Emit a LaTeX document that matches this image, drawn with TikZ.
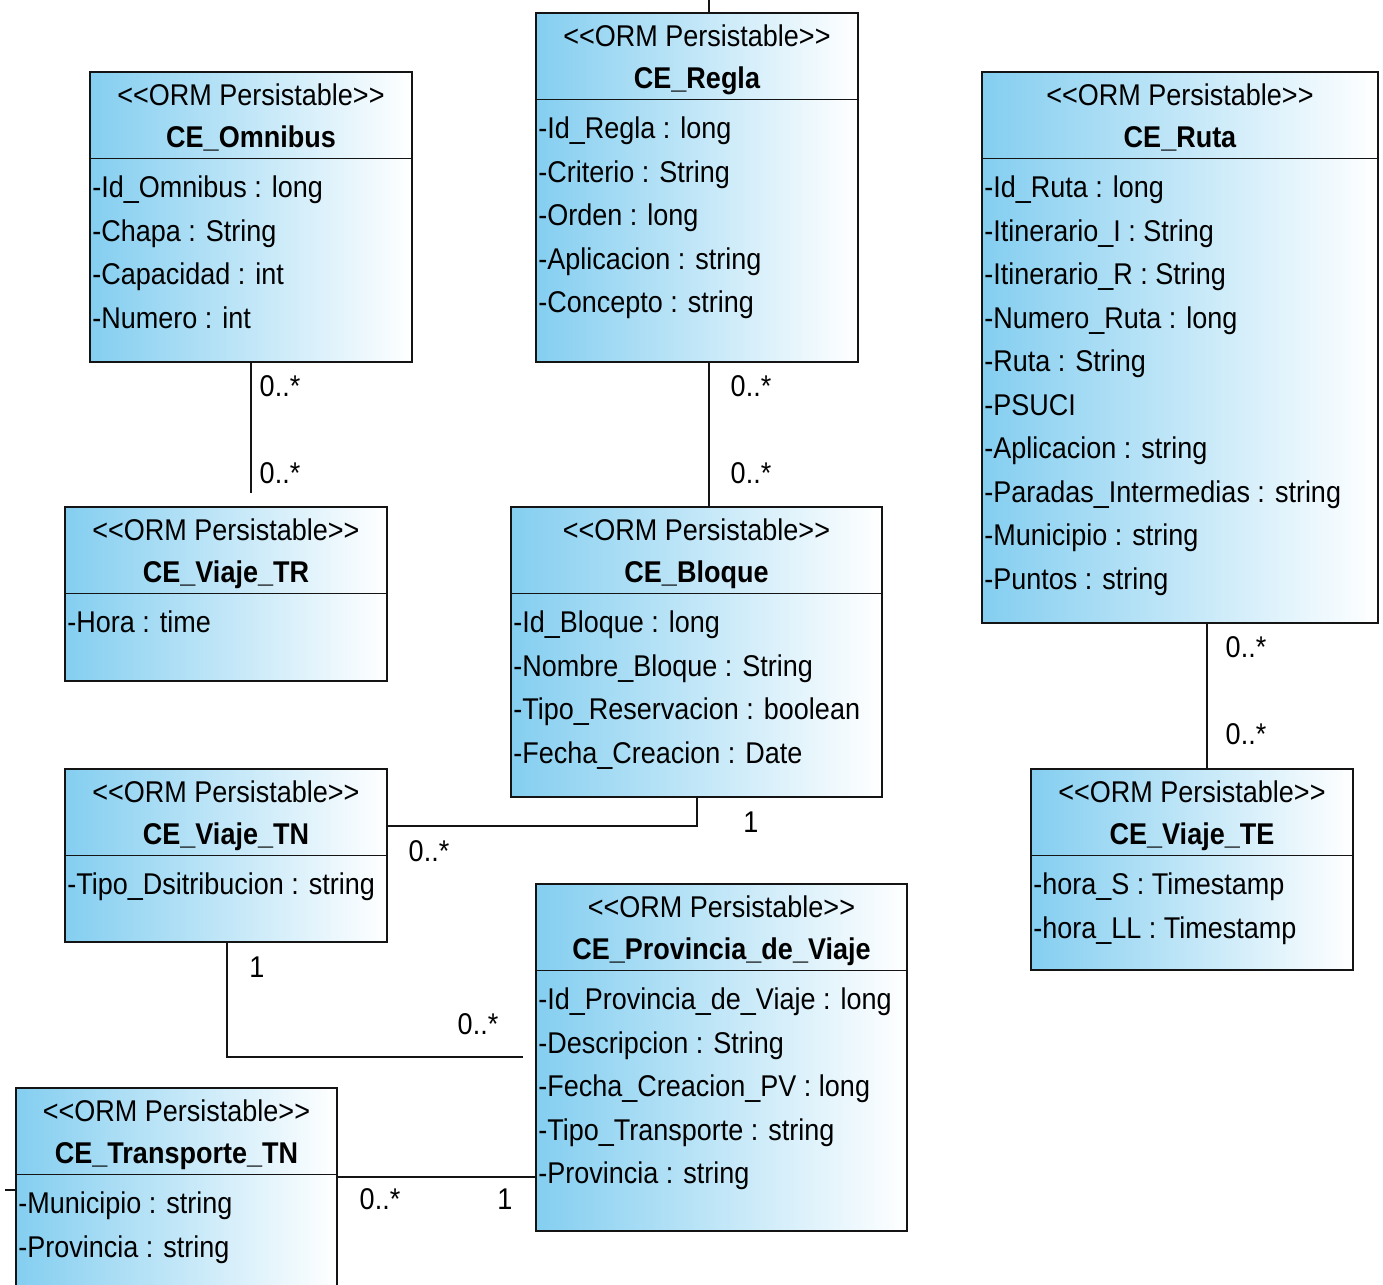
\documentclass[tikz,border=0pt]{standalone}
\usepackage{fontspec}
\newfontfamily\umlfont[FakeStretch=0.9]{Liberation Sans}
\definecolor{boxblue}{RGB}{132,206,240}
\definecolor{inkline}{RGB}{20,20,20}

% One persistable class: id, x1, y1, x2, y2, class name, attribute list
\newcommand\umlclass[7]{%
  \pgfmathsetmacro\clsw{(#4-#2)*0.5}%
  \pgfmathsetmacro\clsh{(#5-#3)*0.5}%
  \pgfmathsetmacro\clsmid{(#2+#4)/2}%
  \pgfmathsetmacro\clsdiv{#3+86.5}%
  \node[classbox, minimum width=\clsw pt, minimum height=\clsh pt, anchor=north west] (#1) at (#2,#3) {};
  \draw[boxline] (#2,\clsdiv) -- (#4,\clsdiv);
  \node[stereo] (#1-st) at (\clsmid,#3+33.5) {<\kern0pt<ORM Persistable>\kern0pt>};
  \node[clsname] (#1-nm) at (\clsmid,#3+75.5) {#6};
  \foreach \attr [count=\k from 0] in {#7}
    \node[attrtext] (#1-a\k) at (#2+2,\clsdiv+39+43.5*\k) {\attr};
}

\begin{document}
\begin{tikzpicture}[x={(0.5pt,0)}, y={(0,-0.5pt)},
  font=\umlfont\fontsize{15}{18}\selectfont,
  classbox/.style={draw=inkline, line width=0.8pt, left color=boxblue, right color=white, inner sep=0pt, outer sep=0pt},
  boxline/.style={draw=inkline, line width=0.8pt},
  stereo/.style={anchor=base, inner sep=0pt},
  clsname/.style={anchor=base, inner sep=0pt, font=\umlfont\bfseries\fontsize{15}{18}\selectfont},
  attrtext/.style={anchor=base west, inner sep=0pt},
  assoc/.style={draw=inkline, line width=0.8pt},
  mult/.style={inner sep=0pt, anchor=center}]

\useasboundingbox (0,0) rectangle (1383,1285);
\clip (0,0) rectangle (1383,1285);
\fill[white] (0,0) rectangle (1383,1285);

% classes
\umlclass{omni}{90}{72}{412}{362}{CE\_Omnibus}%
  {-Id\_Omnibus : long, -Chapa : String, -Capacidad : int, -Numero : int}
\umlclass{regla}{536}{13}{858}{362}{CE\_Regla}%
  {-Id\_Regla : long, -Criterio : String, -Orden : long, -Aplicacion : string, -Concepto : string}
\umlclass{ruta}{982}{72}{1378}{623}{CE\_Ruta}%
  {-Id\_Ruta : long, -Itinerario\_I : String, -Itinerario\_R : String, -Numero\_Ruta : long, -Ruta : String, -PSUCI, -Aplicacion : string, -Paradas\_Intermedias : string, -Municipio : string, -Puntos : string}
\umlclass{tr}{65}{507}{387}{681}{CE\_Viaje\_TR}%
  {-Hora : time}
\umlclass{bloque}{511}{507}{882}{797}{CE\_Bloque}%
  {-Id\_Bloque : long, -Nombre\_Bloque : String, -Tipo\_Reservacion : boolean, -Fecha\_Creacion : Date}
\umlclass{tn}{65}{769}{387}{942}{CE\_Viaje\_TN}%
  {-Tipo\_Dsitribucion : string}
\umlclass{te}{1031}{769}{1353}{970}{CE\_Viaje\_TE}%
  {-hora\_S : Timestamp, -hora\_LL : Timestamp}
\umlclass{prov}{536}{884}{907}{1231}{CE\_Provincia\_de\_Viaje}%
  {-Id\_Provincia\_de\_Viaje : long, -Descripcion : String, -Fecha\_Creacion\_PV : long, -Tipo\_Transporte : string, -Provincia : string}
\umlclass{trans}{16}{1088}{337}{1310}{CE\_Transporte\_TN}%
  {-Municipio : string, -Provincia : string}

% routing guides
\coordinate (omniend) at (251,493);
\coordinate (reglax) at (709,0);
\coordinate (reglaup) at (709,-10);
\coordinate (rutax) at (1207,0);
\coordinate (tny) at (0,826);
\coordinate (bloquex) at (697,0);
\coordinate (tnx) at (227,0);
\coordinate (provend) at (523,1057);
\coordinate (transy) at (0,1177);
\coordinate (leftend) at (5,1190);

% associations
\draw[assoc] (omni.south) -- (omniend);
\draw[assoc] (regla.south -| reglax) -- (bloque.north -| reglax);
\draw[assoc] (regla.north -| reglax) -- (reglaup);
\draw[assoc] (ruta.south -| rutax) -- (te.north -| rutax);
\draw[assoc] (tn.east |- tny) -| (bloque.south -| bloquex);
\draw[assoc] (tn.south -| tnx) |- (provend);
\draw[assoc] (trans.east |- transy) -- (prov.west |- transy);
\draw[assoc] (leftend) -- (leftend -| trans.west);

% multiplicities
\node[mult] (m1) at (280,386) {0..*};
\node[mult] (m2) at (280,473) {0..*};
\node[mult] (m3) at (751,386) {0..*};
\node[mult] (m4) at (751,473) {0..*};
\node[mult] (m5) at (1246,647) {0..*};
\node[mult] (m6) at (1246,734) {0..*};
\node[mult] (m7) at (429,851) {0..*};
\node[mult] (m8) at (751,822) {1};
\node[mult] (m9) at (257,967) {1};
\node[mult] (m10) at (478,1024) {0..*};
\node[mult] (m11) at (380,1199) {0..*};
\node[mult] (m12) at (505,1199) {1};
\end{tikzpicture}
\end{document}
